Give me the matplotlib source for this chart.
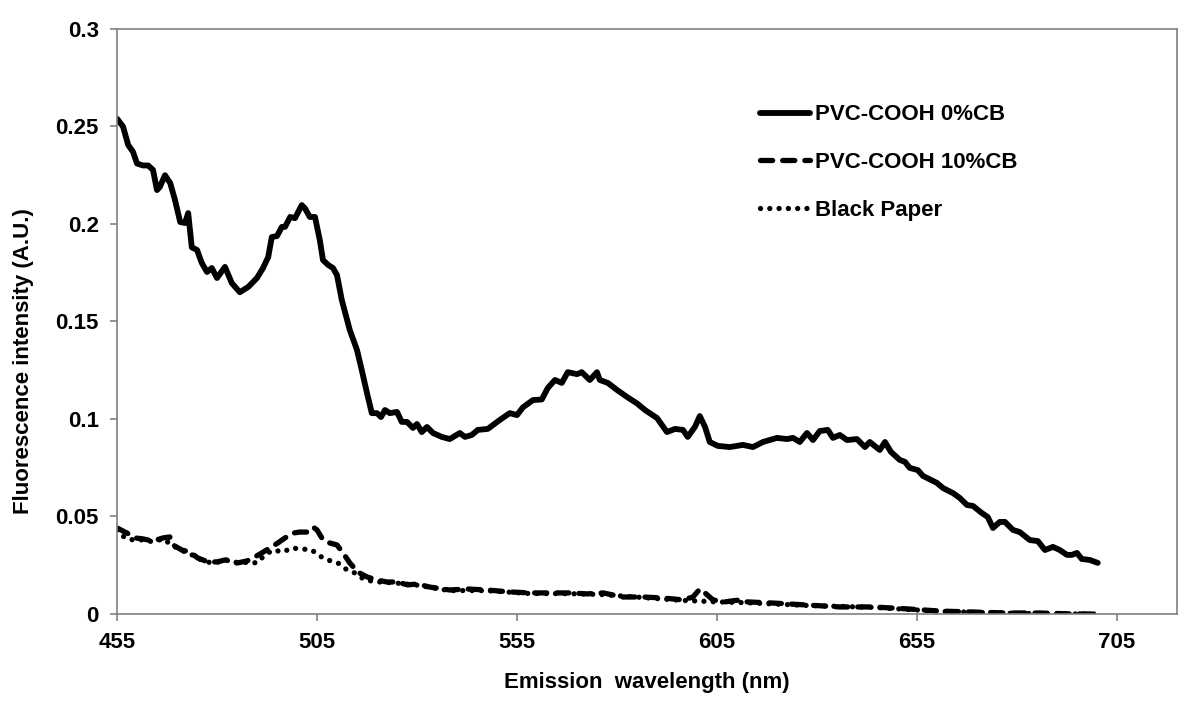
#!/usr/bin/env python3
"""
Fluorescence emission spectra of PVC-COOH films (0% and 10% carbon black)
compared with black paper. Values read off the published figure.
"""

import matplotlib
matplotlib.use('Agg')
import matplotlib.pyplot as plt

# PVC-COOH 0%CB (solid)
wl_0cb = [455, 456.5, 457.8, 459, 460, 461.5, 462.8, 464, 465, 465.7, 467, 468.3,
          469.5, 470.8, 472, 472.8, 473.7, 475, 476.2, 477.5, 478.7, 480, 482,
          483.7, 485.7, 487.8, 490, 491.5, 492.8, 493.7, 495, 496.2, 497, 498.3,
          499.5, 501.2, 502, 503.2, 504.5, 505.7, 506.5, 507.8, 509, 510, 511.2,
          513.2, 515, 516.2, 517.5, 518.7, 520, 521, 522, 523.2, 525, 526.2, 527.5,
          529, 530, 531.2, 532.5, 534, 536.2, 538.2, 540.7, 542, 543.7, 545.2,
          547.7, 550.7, 553.2, 555, 556.5, 559, 561.2, 562.7, 564.5, 566.2, 567.7,
          570, 571.2, 573.2, 575, 575.7, 577.7, 580, 582.5, 585, 587, 590, 592.5,
          594.5, 596.5, 597.7, 599.5, 600.7, 602, 603.2, 605.2, 608.2, 611.5, 614,
          616.5, 620, 622.5, 624, 625.7, 627.5, 629, 630.7, 632.7, 634, 635.7,
          637.5, 640, 642, 643.2, 645.7, 647, 648.5, 650.7, 652, 653.2, 655.2,
          656.5, 660, 661.5, 664, 665.7, 667.5, 669, 671.2, 672.7, 674, 675.7, 677,
          679, 680.7, 683.2, 685.2, 687, 689, 690.7, 692.5, 693.7, 695, 696.2,
          698.2, 700.2]
int_0cb = [0.254, 0.250, 0.2405, 0.237, 0.231, 0.230, 0.230, 0.2277, 0.2174, 0.219,
           0.225, 0.221, 0.2123, 0.201, 0.2005, 0.2056, 0.188, 0.1867, 0.180, 0.1754,
           0.1774, 0.1723, 0.178, 0.1697, 0.165, 0.1677, 0.1723, 0.1774, 0.183,
           0.1933, 0.1938, 0.1985, 0.1985, 0.2036, 0.203, 0.2097, 0.208, 0.2036,
           0.2036, 0.1918, 0.1815, 0.179, 0.1774, 0.1738, 0.161, 0.1456, 0.1354,
           0.125, 0.1133, 0.103, 0.103, 0.101, 0.1046, 0.103, 0.1036, 0.0985, 0.0985,
           0.0954, 0.0974, 0.0933, 0.0959, 0.0928, 0.0908, 0.0897, 0.0928, 0.0908,
           0.0918, 0.0944, 0.0949, 0.0995, 0.103, 0.102, 0.106, 0.1097, 0.110,
           0.1159, 0.120, 0.1185, 0.124, 0.123, 0.124, 0.120, 0.124, 0.120, 0.1185,
           0.1149, 0.1113, 0.108, 0.1046, 0.1005, 0.0933, 0.0949, 0.0944, 0.0908,
           0.096, 0.1015, 0.096, 0.0882, 0.0862, 0.0856, 0.0867, 0.0856, 0.0882,
           0.0903, 0.0897, 0.0903, 0.0882, 0.0928, 0.0892, 0.0938, 0.0944, 0.0903,
           0.0918, 0.0892, 0.0897, 0.0856, 0.0882, 0.0841, 0.0882, 0.0831, 0.079,
           0.078, 0.0749, 0.0738, 0.0708, 0.0672, 0.0646, 0.062, 0.0595, 0.0559,
           0.0554, 0.0518, 0.0497, 0.0441, 0.0472, 0.0472, 0.0431, 0.042, 0.0379,
           0.0374, 0.0328, 0.0344, 0.0328, 0.0303, 0.0303, 0.0313, 0.0282, 0.0277,
           0.0262]

# PVC-COOH 10%CB (dashed)
wl_10cb = [455, 457.5, 459.5, 461.5, 464, 466.5, 468.2, 469, 471.2, 473.2, 475.2,
           477.7, 480, 482, 483.2, 485.2, 487.5, 489, 491.2, 493.2, 495.2, 497, 499,
           500.7, 502.5, 504, 505, 506.5, 508.2, 510, 511.5, 513.2, 515.2, 517.5,
           520, 522.5, 525, 527.7, 530, 533.2, 538.2, 542.5, 547.5, 553.2, 558.2,
           563.2, 568.2, 572.5, 576.5, 581.5, 586.5, 591.5, 596.5, 599, 600.7, 602,
           604, 607, 610.7, 612.5, 619, 627.5, 635.7, 644, 652.5, 660.7, 669, 677.5,
           685.7, 694, 700]
int_10cb = [0.0441, 0.0415, 0.039, 0.0385, 0.0374, 0.039, 0.0395, 0.0354, 0.0328,
            0.0318, 0.0287, 0.0267, 0.0267, 0.0277, 0.0277, 0.0262, 0.0272, 0.0287,
            0.0313, 0.0338, 0.0364, 0.039, 0.0415, 0.042, 0.042, 0.0446, 0.0431,
            0.038, 0.0364, 0.0354, 0.0313, 0.0262, 0.0215, 0.019, 0.0174, 0.0164,
            0.0164, 0.0149, 0.0154, 0.0138, 0.0123, 0.0128, 0.0123, 0.0113, 0.0108,
            0.0108, 0.0108, 0.0103, 0.0108, 0.0087, 0.0087, 0.0082, 0.0072, 0.0087,
            0.0128, 0.0108, 0.0072, 0.0062, 0.0072, 0.0062, 0.0056, 0.0046, 0.0036,
            0.0036, 0.0026, 0.0015, 0.001, 0.0005, 0.0005, 0.0, 0.0]

# Black Paper (dotted)
wl_bp = [455, 457, 459, 461.5, 464, 466.5, 469, 471.2, 473.2, 475.2, 477.7, 480,
         482.5, 485.2, 487.5, 490, 492, 494, 496.5, 498.7, 501.5, 503.7, 505.7,
         507.7, 510.2, 512.5, 514.5, 517, 520, 525, 530, 538, 547, 558, 568, 576,
         586, 596, 605, 612, 627, 644, 660, 677, 694, 700]
int_bp = [0.0431, 0.039, 0.038, 0.038, 0.037, 0.0385, 0.035, 0.0325, 0.031, 0.0285,
          0.0265, 0.0265, 0.0275, 0.026, 0.0265, 0.0262, 0.0303, 0.0328, 0.0318,
          0.0338, 0.0333, 0.0328, 0.0297, 0.0277, 0.0262, 0.0226, 0.021, 0.0174,
          0.0165, 0.0158, 0.0148, 0.0120, 0.0120, 0.0105, 0.0104, 0.0100, 0.0085,
          0.0070, 0.0062, 0.0058, 0.0044, 0.0034, 0.0014, 0.0004, 0.0, 0.0]

x_ticks = [455, 505, 555, 605, 655, 705]
y_ticks = [0, 0.05, 0.1, 0.15, 0.2, 0.25, 0.3]
y_tick_labels = ['0', '0.05', '0.1', '0.15', '0.2', '0.25', '0.3']

plt.rcParams['font.family'] = ['Liberation Sans', 'DejaVu Sans']
plt.rcParams['font.weight'] = 'bold'

fig = plt.figure(figsize=(12, 7.02), dpi=100)
ax = fig.add_axes([0.0975, 0.1254, 0.8833, 0.8333])

ax.plot(wl_0cb, int_0cb, color='black', lw=4.2, solid_joinstyle='round',
        solid_capstyle='round', label='PVC-COOH 0%CB')
ax.plot(wl_10cb, int_10cb, color='black', lw=3.8, dashes=(2.3, 1.9),
        dash_capstyle='round', dash_joinstyle='round', label='PVC-COOH 10%CB')
ax.plot(wl_bp, int_bp, color='black', lw=3.8, dashes=(0.01, 1.75),
        dash_capstyle='round', label='Black Paper')

ax.set_xlim(455, 720)
ax.set_ylim(0, 0.3)
ax.set_xticks(x_ticks)
ax.set_xticklabels([str(t) for t in x_ticks])
ax.set_yticks(y_ticks)
ax.set_yticklabels(y_tick_labels)

grey = '#808080'
for side in ['left', 'bottom', 'right', 'top']:
    ax.spines[side].set_color(grey)
    ax.spines[side].set_linewidth(1.2)
ax.tick_params(axis='both', direction='out', length=5, width=1.2, color=grey,
               labelsize=16, pad=8)

ax.set_xlabel('Emission  wavelength (nm)', fontsize=16, fontweight='bold', labelpad=14)
ax.set_ylabel('Fluorescence intensity (A.U.)', fontsize=16, fontweight='bold')
# label sits a bit below the middle of the axis in the original
ax.yaxis.set_label_coords(-0.078, 0.432)

leg = ax.legend(loc='upper left', bbox_to_anchor=(0.607, 0.871), frameon=False,
                fontsize=16, handlelength=2.25, handletextpad=0.22,
                labelspacing=1.2, borderpad=0, borderaxespad=0)

fig.savefig('out.png', dpi=100, facecolor='white')
